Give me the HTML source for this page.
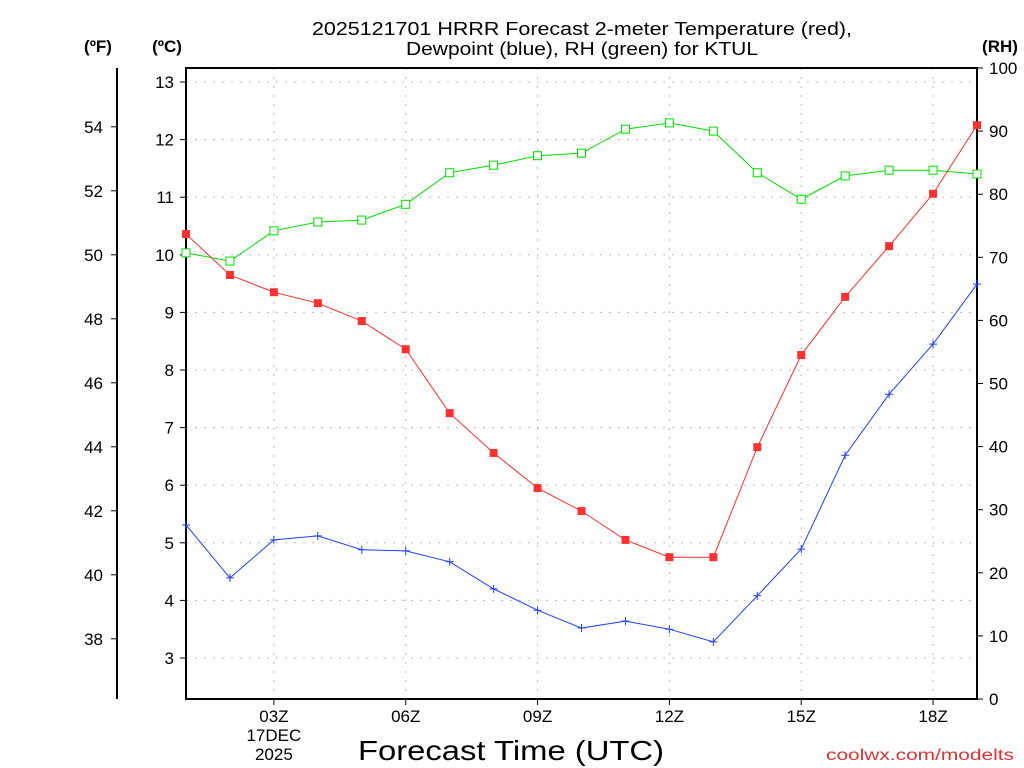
<!DOCTYPE html>
<html><head><meta charset="utf-8"><style>
body{margin:0;background:#fff;}
svg{display:block;font-family:"Liberation Sans",sans-serif;}
</style></head><body>
<svg id="c" width="1024" height="768"></svg>
<script>
const hours=[1,2,3,4,5,6,7,8,9,10,11,12,13,14,15,16,17,18,19];
const tempC=[10.36,9.65,9.35,9.16,8.85,8.36,7.25,6.56,5.95,5.55,5.05,4.75,4.75,6.66,8.26,9.27,10.15,11.06,12.25];
const dewC=[5.31,4.39,5.05,5.12,4.88,4.86,4.67,4.20,3.83,3.52,3.64,3.50,3.28,4.08,4.89,6.52,7.58,8.45,9.49];
const rh=[70.7,69.4,74.2,75.6,75.9,78.4,83.4,84.6,86.1,86.5,90.3,91.3,90.0,83.4,79.2,82.9,83.8,83.8,83.2];
const cTicks=[3,4,5,6,7,8,9,10,11,12,13];
const fTicks=[38,40,42,44,46,48,50,52,54];
const rhTicks=[0,10,20,30,40,50,60,70,80,90,100];
const xTickHours=[3,6,9,12,15,18];
const xTickLabels=["03Z","06Z","09Z","12Z","15Z","18Z"];

const L=186,R=977,T=68,B=699;
const xs=h=>L+(h-1)*(R-L)/18;
const yC=c=>82+(13-c)*57.6;
const yF=f=>yC((f-32)*5/9);
const yR=r=>B-(B-T)*r/100;
const svg=document.getElementById('c');
const NS='http://www.w3.org/2000/svg';
function el(tag,attrs,parent){const e=document.createElementNS(NS,tag);for(const k in attrs)e.setAttribute(k,attrs[k]);(parent||svg).appendChild(e);return e;}
function txt(x,y,s,attrs){const t=el('text',Object.assign({x:x,y:y,'font-size':17,fill:'#000'},attrs||{}));t.textContent=s;return t;}

cTicks.forEach(c=>{const g=el('line',{x1:L,x2:R,y1:yC(c),y2:yC(c),stroke:'#bbb','stroke-dasharray':'2,7'});

});
xTickHours.forEach(h=>{const g=el('line',{x1:xs(h),x2:xs(h),y1:T,y2:B,stroke:'#bbb','stroke-dasharray':'2,7'});

});

const fr=el('rect',{x:L,y:T,width:R-L,height:B-T,fill:'none',stroke:'#000','stroke-width':2});



cTicks.forEach(c=>{el('line',{x1:L-6,x2:L,y1:yC(c),y2:yC(c),stroke:'#000'});
const t=txt(L-12,yC(c)+6,String(c),{'text-anchor':'end'});

});
el('line',{x1:117,x2:117,y1:T,y2:B,stroke:'#000','stroke-width':2});
fTicks.forEach(f=>{el('line',{x1:111,x2:117,y1:yF(f),y2:yF(f),stroke:'#000'});
const t=txt(103,yF(f)+6,String(f),{'text-anchor':'end'});

});
rhTicks.forEach(r=>{el('line',{x1:R,x2:R+6,y1:yR(r),y2:yR(r),stroke:'#000'});
const t=txt(R+12,yR(r)+6,String(r),{'text-anchor':'start'});

});
xTickHours.forEach((h,i)=>{el('line',{x1:xs(h),x2:xs(h),y1:B,y2:B+6,stroke:'#000'});
const t=txt(xs(h),B+23,xTickLabels[i],{'text-anchor':'middle'});

});
txt(xs(3),B+42,'17DEC',{'text-anchor':'middle'});
txt(xs(3),B+61,'2025',{'text-anchor':'middle'});

txt(98,52,'(ºF)',{'text-anchor':'middle','font-weight':'bold'});
txt(167,52,'(ºC)',{'text-anchor':'middle','font-weight':'bold'});
txt(1000,52,'(RH)',{'text-anchor':'middle','font-weight':'bold'});

txt(582,35,'2025121701 HRRR Forecast 2-meter Temperature (red),',{'text-anchor':'middle','font-size':18,textLength:540,lengthAdjust:'spacingAndGlyphs'});
txt(582,55,'Dewpoint (blue), RH (green) for KTUL',{'text-anchor':'middle','font-size':18,textLength:352,lengthAdjust:'spacingAndGlyphs'});
txt(511,760,'Forecast Time (UTC)',{'text-anchor':'middle','font-size':28,textLength:306,lengthAdjust:'spacingAndGlyphs'});
txt(1014,760,'coolwx.com/modelts',{'text-anchor':'end','font-size':16,fill:'#e03030',textLength:188,lengthAdjust:'spacingAndGlyphs'});

function series(vals,yf,color,marker,name){
  const pts=hours.map((h,i)=>xs(h)+','+yf(vals[i])).join(' ');
  const pl=el('polyline',{points:pts,fill:'none',stroke:color,'stroke-width':1});
  
  
  hours.forEach((h,i)=>{const x=xs(h),y=yf(vals[i]);let m;
    if(marker==='sq'){m=el('rect',{x:x-4,y:y-4,width:8,height:8,fill:color});}
    else if(marker==='open'){m=el('rect',{x:x-4,y:y-4,width:8,height:8,fill:'#fff',stroke:color});}
    else{m=el('path',{d:`M${x-4},${y}H${x+4}M${x},${y-4}V${y+4}`,stroke:color});}
    
    });
}
series(rh,yR,'#00dd00','open','rh');
series(tempC,yC,'#ff3030','sq','temperature');
series(dewC,yC,'#2040ff','plus','dewpoint');
</script>
</body></html>
